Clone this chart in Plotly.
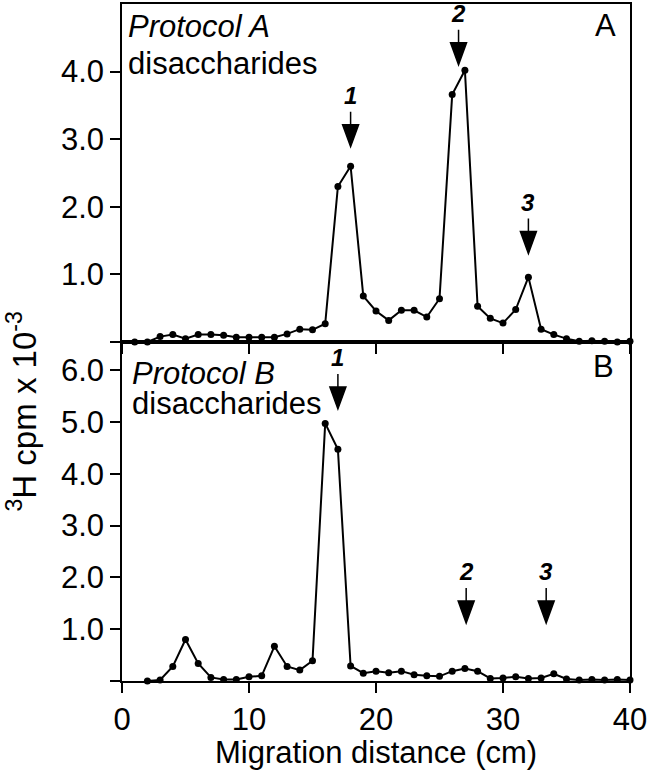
import plotly.graph_objects as go

# ---------------- data ----------------
dist_a = list(range(1, 41))
cpm_a = [0.00, 0.00, 0.08, 0.11, 0.05, 0.11, 0.11, 0.10, 0.07, 0.07,
         0.07, 0.07, 0.12, 0.19, 0.18, 0.27, 2.30, 2.60, 0.68, 0.46,
         0.32, 0.47, 0.47, 0.37, 0.64, 3.66, 4.02, 0.53, 0.35, 0.28,
         0.48, 0.96, 0.19, 0.11, 0.05, 0.01, 0.02, 0.01, 0.00, 0.01]

dist_b = list(range(2, 41))
cpm_b = [0.00, 0.02, 0.28, 0.80, 0.34, 0.07, 0.03, 0.03, 0.08, 0.10,
         0.67, 0.28, 0.21, 0.39, 4.97, 4.47, 0.29, 0.15, 0.19, 0.16,
         0.19, 0.12, 0.10, 0.09, 0.19, 0.24, 0.19, 0.05, 0.06, 0.08,
         0.05, 0.06, 0.14, 0.04, 0.02, 0.03, 0.02, 0.03, 0.02]

arrow_labels = ["1", "2", "3"]
arrow_x_a = [18.0, 26.5, 32.0]
arrow_tip_a = [2.89, 4.10, 1.31]
arrow_x_b = [17.0, 27.1, 33.4]
arrow_tip_b = [5.25, 1.12, 1.12]

x_ticks = [0, 10, 20, 30, 40]
y_ticks_a = [0, 1, 2, 3, 4]
y_ticktext_a = ["", "1.0", "2.0", "3.0", "4.0"]
y_ticks_b = [0, 1, 2, 3, 4, 5, 6]
y_ticktext_b = ["", "1.0", "2.0", "3.0", "4.0", "5.0", "6.0"]

FONT = "Liberation Sans, Arial, Helvetica, sans-serif"
FS = 31

fig = go.Figure()
line_style = dict(color="black", width=2)
marker_style = dict(color="black", size=7)
fig.add_trace(go.Scatter(x=dist_a, y=cpm_a, mode="lines+markers", line=line_style,
                         marker=marker_style, cliponaxis=False, xaxis="x", yaxis="y",
                         showlegend=False, hoverinfo="skip"))
fig.add_trace(go.Scatter(x=dist_b, y=cpm_b, mode="lines+markers", line=line_style,
                         marker=marker_style, cliponaxis=False, xaxis="x2", yaxis="y2",
                         showlegend=False, hoverinfo="skip"))

split = 0.5007
axis_common = dict(showline=True, linecolor="black", linewidth=1.5, mirror=True,
                   ticks="outside", tickcolor="black", tickwidth=1.5, ticklen=10,
                   showgrid=False, zeroline=False,
                   tickfont=dict(family=FONT, size=FS, color="black"))

fig.update_layout(
    width=650, height=773,
    margin=dict(l=122, r=20, t=2, b=92),
    paper_bgcolor="white", plot_bgcolor="white",
    xaxis=dict(domain=[0, 1], range=[0, 40], anchor="y", tickvals=x_ticks,
               showticklabels=False, **axis_common),
    yaxis=dict(domain=[split, 1], range=[0, 5.0], anchor="x", tickvals=y_ticks_a,
               ticktext=y_ticktext_a, **axis_common),
    xaxis2=dict(domain=[0, 1], range=[0, 40], anchor="y2", tickvals=x_ticks,
                **axis_common),
    yaxis2=dict(domain=[0, split], range=[0, 6.54], anchor="x2", tickvals=y_ticks_b,
                ticktext=y_ticktext_b, **axis_common),
)

annotations = []
shapes = []
arrow_path = "M-8,22 L8,22 L0,0 Z M0,22 L0,35"
for xr, yr, xs, tips in (("x", "y", arrow_x_a, arrow_tip_a), ("x2", "y2", arrow_x_b, arrow_tip_b)):
    for lab, xv, tv in zip(arrow_labels, xs, tips):
        shapes.append(dict(type="path", xref=xr, yref=yr, xsizemode="pixel", ysizemode="pixel",
                           xanchor=xv, yanchor=tv, path=arrow_path,
                           fillcolor="black", line=dict(color="black", width=1.5)))
        annotations.append(dict(x=xv, y=tv, xref=xr, yref=yr, text="<b><i>%s</i></b>" % lab,
                                showarrow=False, yshift=51, xanchor="center", yanchor="middle",
                                font=dict(family=FONT, size=24, color="black")))

# panel texts
annotations += [
    dict(x=0.008, y=0.934, xref="x domain", yref="y domain", text="<i>Protocol A</i>",
         showarrow=False, xanchor="left", yanchor="middle", font=dict(family=FONT, size=FS, color="black")),
    dict(x=0.008, y=0.823, xref="x domain", yref="y domain", text="disaccharides",
         showarrow=False, xanchor="left", yanchor="middle", font=dict(family=FONT, size=FS, color="black")),
    dict(x=0.977, y=0.935, xref="x domain", yref="y domain", text="A",
         showarrow=False, xanchor="right", yanchor="middle", font=dict(family=FONT, size=FS, color="black")),
    dict(x=0.015, y=0.908, xref="x2 domain", yref="y2 domain", text="<i>Protocol B</i>",
         showarrow=False, xanchor="left", yanchor="middle", font=dict(family=FONT, size=FS, color="black")),
    dict(x=0.015, y=0.82, xref="x2 domain", yref="y2 domain", text="disaccharides",
         showarrow=False, xanchor="left", yanchor="middle", font=dict(family=FONT, size=FS, color="black")),
    dict(x=0.972, y=0.929, xref="x2 domain", yref="y2 domain", text="B",
         showarrow=False, xanchor="right", yanchor="middle", font=dict(family=FONT, size=FS, color="black")),
    dict(x=0.5, y=-0.105, xref="paper", yref="paper", text="Migration distance (cm)",
         showarrow=False, xanchor="center", yanchor="middle", font=dict(family=FONT, size=FS, color="black")),
    dict(x=-0.197, y=0.398, xref="paper", yref="paper", text="<sup>3</sup>H cpm x 10<sup>-3</sup>",
         textangle=-90, showarrow=False, xanchor="center", yanchor="middle",
         font=dict(family=FONT, size=33, color="black")),
]
fig.update_layout(annotations=annotations, shapes=shapes)
fig.write_html("out.html", config={"displayModeBar": False},
               post_script="document.body.style.margin='0px';")
